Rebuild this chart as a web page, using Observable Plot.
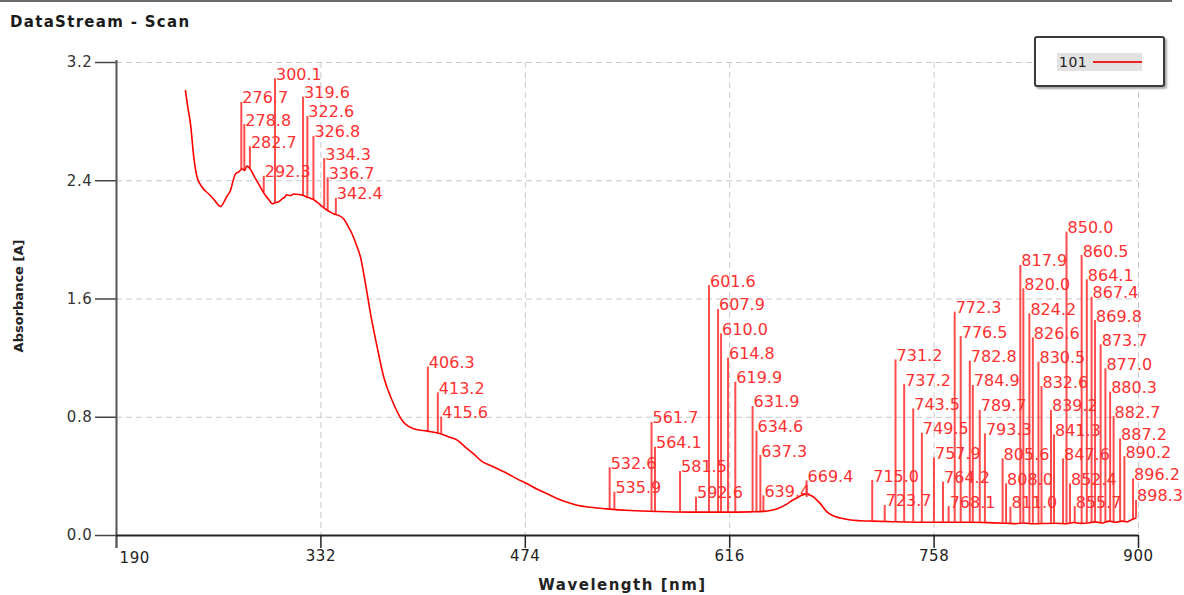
<!DOCTYPE html>
<html>
<head>
<meta charset="utf-8">
<script src="https://cdn.jsdelivr.net/npm/d3@7"></script>
<script src="https://cdn.jsdelivr.net/npm/@observablehq/plot@0.6"></script>
<style>
  html, body { margin: 0; padding: 0; background: #fff; }
  #wrap { position: relative; width: 1184px; height: 595px; overflow: hidden; font-family: "DejaVu Sans", Verdana, sans-serif; }
  #title { height: 40px; box-sizing: border-box; border-top: 2px solid #6a6a6a; width: 1172px; position: relative; }
  #title span { position: absolute; left: 10px; top: 11px; font-weight: bold; font-size: 15px; letter-spacing: 1.3px; color: #1a1a1a; }
  #legend { position: absolute; left: 1034px; top: 36px; width: 127px; height: 47px; border: 2px solid #3a3a3a; border-radius: 3px; box-shadow: 2px 2px 2px #aaa; background: #fff; }
  #legend .hl { position: absolute; left: 21px; top: 15px; width: 85px; height: 18px; background: #e2e2e2; }
  #legend .lbl { position: absolute; left: 23px; top: 15px; font-size: 14px; line-height: 18px; color: #222; letter-spacing: 0.5px; }
  #legend .ln { position: absolute; left: 57px; top: 23px; width: 49px; height: 2px; background: #ee2222; }
  .axlbl text { letter-spacing: 0.6px; }
</style>
</head>
<body>
<div id="wrap">
  <div id="title"><span></span></div>
  <div id="chart"></div>
  <div id="legend"><div class="hl"></div><div class="lbl"></div><div class="ln"></div></div>
</div>
<script>
// ---- data ----
const seriesName = "101";
const titleText = "DataStream - Scan";
const xLabel = "Wavelength [nm]";
const yLabel = "Absorbance [A]";
const xTicks = [190, 332, 474, 616, 758, 900];
const yTicks = [0, 0.8, 1.6, 2.4, 3.2];

const curveNm = [237.9, 239.5, 241.4, 243.7, 246.0, 249.5, 254.1, 258, 261.1, 262.5, 264.6, 267, 269.2, 271, 272.7, 275, 277.3, 279, 280.5, 281.9, 283.5, 285.4, 288, 290, 293.5, 296, 298.2, 300, 301.6, 303, 305.1, 307, 308, 310.9, 313, 316.6, 320, 322.4, 325, 327.1, 330, 332.9, 335, 338.7, 341, 344.4, 347.9, 351, 353.7, 356.5, 359.5, 363, 366.5, 371.1, 375.7, 381.5, 388.5, 396.5, 405.8, 415.1, 420, 426.7, 433.6, 438.3, 444, 449.8, 455, 461.4, 468, 475.3, 482, 489.2, 496, 503.1, 510, 519.3, 530.9, 547.1, 565.6, 588.8, 611.9, 630.4, 640, 644.3, 650, 655.9, 659, 662.9, 666, 669.8, 672, 674.4, 677, 679.1, 683, 687.4, 693, 699, 707, 715.1, 730, 749.9, 765, 784.6, 795, 807.8, 815, 820, 825, 842.5, 850, 855, 860, 865.7, 870, 875, 879.6, 884, 888.8, 892, 895.8, 898.1];
const curveAbs = [3.01, 2.90, 2.785, 2.56, 2.424, 2.356, 2.31, 2.27, 2.232, 2.225, 2.255, 2.30, 2.334, 2.40, 2.447, 2.46, 2.48, 2.47, 2.50, 2.49, 2.47, 2.435, 2.39, 2.356, 2.30, 2.27, 2.244, 2.25, 2.255, 2.26, 2.278, 2.29, 2.305, 2.30, 2.31, 2.307, 2.30, 2.289, 2.28, 2.271, 2.25, 2.226, 2.21, 2.187, 2.175, 2.165, 2.142, 2.09, 2.04, 1.97, 1.883, 1.703, 1.50, 1.274, 1.071, 0.913, 0.778, 0.722, 0.706, 0.688, 0.67, 0.645, 0.587, 0.55, 0.50, 0.474, 0.45, 0.42, 0.385, 0.35, 0.315, 0.282, 0.25, 0.225, 0.205, 0.191, 0.18, 0.169, 0.162, 0.158, 0.158, 0.16, 0.163, 0.169, 0.185, 0.214, 0.235, 0.255, 0.272, 0.28, 0.272, 0.259, 0.235, 0.214, 0.165, 0.135, 0.118, 0.106, 0.1, 0.097, 0.093, 0.09, 0.09, 0.09, 0.087, 0.083, 0.08, 0.085, 0.08, 0.083, 0.08, 0.088, 0.082, 0.086, 0.092, 0.085, 0.097, 0.09, 0.097, 0.092, 0.11, 0.117];

const peakNm = [276.7, 278.8, 282.7, 292.3, 300.1, 319.6, 322.6, 326.8, 334.3, 336.7, 342.4, 406.3, 413.2, 415.6, 532.6, 535.9, 561.7, 564.1, 581.5, 592.6, 601.6, 607.9, 610.0, 614.8, 619.9, 631.9, 634.6, 637.3, 639.4, 669.4, 715.0, 723.7, 731.2, 737.2, 743.5, 749.5, 757.9, 764.2, 768.1, 772.3, 776.5, 782.8, 784.9, 789.7, 793.3, 805.6, 808.0, 811.0, 817.9, 820.0, 824.2, 826.6, 830.5, 832.6, 839.2, 841.3, 847.6, 850.0, 852.4, 855.7, 860.5, 864.1, 867.4, 869.8, 873.7, 877.0, 880.3, 882.7, 887.2, 890.2, 896.2, 898.3];
const peakAbs = [2.93, 2.78, 2.63, 2.43, 3.09, 2.965, 2.835, 2.70, 2.55, 2.42, 2.28, 1.14, 0.965, 0.80, 0.458, 0.293, 0.766, 0.597, 0.433, 0.259, 1.691, 1.529, 1.364, 1.20, 1.037, 0.873, 0.706, 0.541, 0.268, 0.37, 0.372, 0.203, 1.188, 1.021, 0.857, 0.692, 0.525, 0.361, 0.196, 1.511, 1.346, 1.179, 1.015, 0.846, 0.688, 0.519, 0.35, 0.192, 1.827, 1.669, 1.50, 1.337, 1.173, 1.008, 0.846, 0.681, 0.519, 2.052, 0.35, 0.196, 1.894, 1.73, 1.612, 1.454, 1.29, 1.128, 0.97, 0.805, 0.654, 0.534, 0.383, 0.237];

// ---- build tables ----
const curve = curveNm.map((x, i) => ({x, y: curveAbs[i]}));
function baseAt(nm) {
  const i = d3.bisectLeft(curveNm, nm);
  if (i <= 0) return curveAbs[0];
  if (i >= curveNm.length) return curveAbs[curveAbs.length - 1];
  const x0 = curveNm[i - 1], x1 = curveNm[i];
  const t = (nm - x0) / (x1 - x0);
  return curveAbs[i - 1] + t * (curveAbs[i] - curveAbs[i - 1]);
}
const peaks = peakNm.map((x, i) => ({x, y: peakAbs[i], base: baseAt(x), label: x.toFixed(1)}));

document.querySelector("#title span").textContent = titleText;
document.querySelector("#legend .lbl").textContent = seriesName;

const chart = Plot.plot({
  width: 1184,
  height: 555,
  marginTop: 22,
  marginBottom: 60,
  marginLeft: 116,
  marginRight: 46,
  style: {fontFamily: "DejaVu Sans, Verdana, sans-serif", fontSize: "14px", color: "#333", background: "#fff"},
  x: {domain: [190, 900]},
  y: {domain: [0, 3.2]},
  marks: [
    Plot.gridX(xTicks.slice(1), {stroke: "#c8c8c8", strokeOpacity: 1, strokeDasharray: "6,4"}),
    Plot.gridY(yTicks.slice(1), {stroke: "#c8c8c8", strokeOpacity: 1, strokeDasharray: "6,4"}),
    Plot.axisX(xTicks, {tickSize: 13, tickPadding: 2, stroke: "#222", strokeWidth: 1.5, fill: "#222", fontSize: 15, label: null, tickFormat: d => d === xTicks[0] ? "" : String(d), className: "axlbl"}),
    Plot.text(xTicks.slice(0, 1), {x: d => d, frameAnchor: "bottom", textAnchor: "start", lineAnchor: "middle", dx: 3, dy: 23, fill: "#222", fontSize: 15, className: "axlbl"}),
    Plot.axisY(yTicks, {tickSize: 21, tickPadding: 3, stroke: "#444", strokeWidth: 1.5, fill: "#333", fontSize: 15, label: null, tickFormat: d => d.toFixed(1), className: "axlbl"}),
    Plot.ruleX([190], {y1: -0.088, y2: 3.213, stroke: "#555", strokeWidth: 2}),
    Plot.ruleY([0], {x1: 190, x2: 900, stroke: "#222", strokeWidth: 2}),
    Plot.ruleX(peaks, {x: "x", y1: "base", y2: "y", stroke: "#ff0000", strokeOpacity: 0.7, strokeWidth: 2}),
    Plot.line(curve, {x: "x", y: "y", stroke: "#ff0000", strokeWidth: 1.6, curve: "monotone-x"}),
    Plot.text(peaks, {x: "x", y: "y", text: "label", textAnchor: "start", lineAnchor: "bottom", dx: 1, dy: 1, fill: "#ff3030", fontSize: 16}),
    Plot.text([xLabel], {frameAnchor: "bottom", lineAnchor: "middle", textAnchor: "middle", dy: 50, dx: -5, fontWeight: "bold", fontSize: 15, fill: "#222", className: "xtitle"}),
    Plot.text([yLabel], {frameAnchor: "left", textAnchor: "middle", lineAnchor: "middle", dx: -98, dy: -3, rotate: -90, fontWeight: "bold", fontSize: 13, fill: "#222"})
  ]
});
chart.querySelectorAll(".xtitle text").forEach(t => t.style.letterSpacing = "1.5px");
document.getElementById("chart").appendChild(chart);
</script>
</body>
</html>
